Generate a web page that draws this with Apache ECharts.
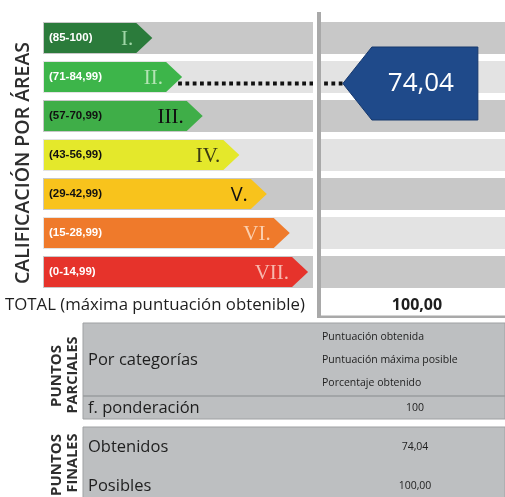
<!DOCTYPE html>
<html>
<head>
<meta charset="utf-8">
<script src="https://cdn.jsdelivr.net/npm/echarts@6/dist/echarts.min.js"></script>
<style>
    html, body { margin: 0; padding: 0; background: #fff; }
    #chart { width: 505px; height: 497px; }
</style>
</head>
<body>
<div id="chart"></div>
<script>
/*Calificación por áreas*/

// datos
var rangos = ['(85-100)', '(71-84,99)', '(57-70,99)', '(43-56,99)', '(29-42,99)', '(15-28,99)', '(0-14,99)'];
var clases = ['I.', 'II.', 'III.', 'IV.', 'V.', 'VI.', 'VII.'];
var largoFlecha = [23, 29.5, 34, 42, 48, 53, 57];     //punta de cada flecha (eje 0-100)
var puntuacion = 74.04;
var claseObtenida = 1;                                  //II.
var totalMaximo = 100;
var textosParciales = ['Puntuación obtenida', 'Puntuación máxima posible', 'Porcentaje obtenido'];
var ponderacion = 100;
var puntosObtenidos = 74.04;
var puntosPosibles = 100;

var coloresFlecha = ['#2b7b3b', '#3db54a', '#3fae48', '#e4e82b', '#f8c31c', '#ef7a2b', '#e6332b'];
var coloresRango = ['#fff', '#fff', '#111', '#111', '#111', '#fff', '#fff'];
var coloresClase = ['#9fd6a6', '#b4e4b4', '#111', '#3b3b12', '#111', '#fbcfae', '#f7b8ae'];
var fuentesClase = ['serif', 'serif', 'serif', 'serif', 'sans', 'serif', 'serif'];

function coma(v, dec) {
    return v.toFixed(dec).replace('.', ',');
}

var chart = echarts.init(document.getElementById('chart'));

function renderBanda(params, api) {
    var i = api.value(1);
    var p = api.coord([0, i]);
    var cs = params.coordSys;
    return {
        type: 'rect',
        shape: { x: cs.x - 4, y: p[1] - 16, width: cs.width + 4, height: 32 },
        style: { fill: i % 2 == 0 ? '#c8c8c8' : '#e3e3e3' }
    };
}

function renderFlecha(params, api) {
    var i = api.value(1);
    var ini = api.coord([0, i]);
    var fin = api.coord([api.value(0), i]);
    var x0 = ini[0] - 3, y = fin[1], h = 15, punta = 16;
    var serif = fuentesClase[i] == 'serif';
    return {
        type: 'group',
        children: [
            {
                type: 'polygon',
                shape: { points: [[x0, y - h], [fin[0] - punta, y - h], [fin[0], y], [fin[0] - punta, y + h], [x0, y + h]] },
                style: { fill: coloresFlecha[i] }
            },
            {
                type: 'text',
                style: {
                    text: rangos[i], x: x0 + 5, y: y,
                    verticalAlign: 'middle',
                    font: 'bold 11.5px "Liberation Sans"',
                    fill: coloresRango[i]
                }
            },
            {
                type: 'text',
                style: {
                    text: clases[i], x: fin[0] - 19, y: y + 1,
                    align: 'right', verticalAlign: 'middle',
                    font: serif ? '21px "Liberation Serif"' : '20px "Open Sans"',
                    fill: coloresClase[i]
                }
            }
        ]
    };
}

function renderMarcador(params, api) {
    var i = api.value(1);
    var desde = api.coord([largoFlecha[i], i]);
    var punta = api.coord([64.6, i]);
    var y = punta[1] + 6.5;
    var x0 = punta[0], x1 = x0 + 29, x2 = x0 + 135;
    return {
        type: 'group',
        children: [
            {
                type: 'line',
                shape: { x1: desde[0] - 4, y1: y, x2: x0, y2: y },
                style: { stroke: '#111', lineWidth: 4, lineDash: [3.8, 3.5] }
            },
            {
                type: 'polygon',
                shape: { points: [[x0, y], [x1, y - 36.5], [x2, y - 36.5], [x2, y + 36.5], [x1, y + 36.5]] },
                style: { fill: '#1f4a8a', stroke: '#16386d', lineWidth: 1 }
            },
            {
                type: 'text',
                style: {
                    text: coma(api.value(0), 2), x: x1 + 49, y: y,
                    align: 'center', verticalAlign: 'middle',
                    font: '26px "Open Sans"', fill: '#fff'
                }
            }
        ]
    };
}

function textoVertical(txt, x, y, size, peso) {
    return {
        type: 'text', x: x, y: y, rotation: Math.PI / 2, z: 100,
        style: {
            text: txt, x: 0, y: 0, align: 'center', verticalAlign: 'middle',
            font: (peso || 'bold') + ' ' + size + 'px "Open Sans"', fill: '#2e2e2e'
        }
    };
}

function texto(txt, x, y, font, align) {
    return {
        type: 'text', z: 100,
        style: { text: txt, x: x, y: y, align: align || 'left', verticalAlign: 'middle', font: font, fill: '#1e1e1e' }
    };
}

var fuenteTabla = '16.5px "Open Sans"';
var fuentePeque = '10.5px "Open Sans"';

var option = {
    animation: false,
    grid: { left: 47, right: 0, top: 18.5, height: 273 },
    xAxis: { type: 'value', min: 0, max: 100, show: false },
    yAxis: { type: 'category', data: clases, inverse: true, show: false },
    series: [
        {
            type: 'custom', renderItem: renderBanda, z: 1,
            data: clases.map(function (c, i) { return [100, i]; })
        },
        {
            type: 'custom', renderItem: renderFlecha, z: 2,
            data: largoFlecha.map(function (v, i) { return [v, i]; })
        },
        {
            type: 'custom', renderItem: renderMarcador, z: 3,
            data: [[puntuacion, claseObtenida]]
        }
    ],
    graphic: [
        // línea vertical y caja del total
        { type: 'rect', z: 50, shape: { x: 313, y: 12, width: 4, height: 279 }, style: { fill: '#fff' } },
        { type: 'rect', z: 50, shape: { x: 321, y: 288, width: 184, height: 28 }, style: { fill: '#fff' } },
        { type: 'rect', z: 51, shape: { x: 317, y: 12, width: 4, height: 306 }, style: { fill: '#a9a9a9' } },
        { type: 'rect', z: 51, shape: { x: 317, y: 315.5, width: 188, height: 2.5 }, style: { fill: '#a9a9a9' } },
        texto('TOTAL (máxima puntuación obtenible)', 5, 305, '16.8px "Open Sans"'),
        texto(coma(totalMaximo, 2), 417, 305, 'bold 16px "Open Sans"', 'center'),
        textoVertical('CALIFICACIÓN POR ÁREAS', 23, 163, 19.5, '600'),

        // puntos parciales
        { type: 'rect', z: 50, shape: { x: 83, y: 323, width: 422, height: 96 }, style: { fill: '#bdbfc1', stroke: '#9fa1a3', lineWidth: 1 } },
        { type: 'line', z: 51, shape: { x1: 83, y1: 396, x2: 505, y2: 396 }, style: { stroke: '#9a9c9e', lineWidth: 1.5 } },
        texto('Por categorías', 88, 360, fuenteTabla),
        texto(textosParciales[0], 322, 337, fuentePeque),
        texto(textosParciales[1], 322, 360, fuentePeque),
        texto(textosParciales[2], 322, 383, fuentePeque),
        texto('f. ponderación', 88, 408, fuenteTabla),
        texto(String(ponderacion), 415, 408, fuentePeque, 'center'),
        textoVertical('PUNTOS', 57, 376, 15),
        textoVertical('PARCIALES', 73, 375, 14.5),

        // puntos finales
        { type: 'rect', z: 50, shape: { x: 83, y: 427, width: 422, height: 75 }, style: { fill: '#bdbfc1', stroke: '#9fa1a3', lineWidth: 1 } },
        texto('Obtenidos', 88, 447, fuenteTabla),
        texto(coma(puntosObtenidos, 2), 415, 447, fuentePeque, 'center'),
        texto('Posibles', 88, 486, fuenteTabla),
        texto(coma(puntosPosibles, 2), 415, 486, fuentePeque, 'center'),
        textoVertical('PUNTOS', 57, 465, 15),
        textoVertical('FINALES', 73, 463, 14.5)
    ]
};

chart.setOption(option);
</script>
</body>
</html>
